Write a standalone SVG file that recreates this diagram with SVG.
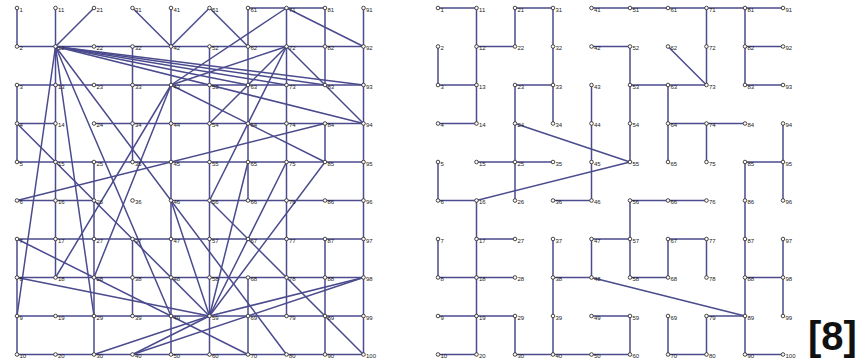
<svg xmlns="http://www.w3.org/2000/svg" width="867" height="361" viewBox="0 0 867 361">
<style>
.bg{fill:#fff}
.e path{stroke:#4b4b8e;stroke-width:1.5;fill:none;stroke-linecap:round}
.n circle{fill:#fff;stroke:#333;stroke-width:0.9}
.n text{font-family:"Liberation Sans",Arial,sans-serif;font-size:6px;fill:#222}
.ref{font-family:"Liberation Sans",Arial,sans-serif;font-size:40px;font-weight:bold;fill:#111}
</style>
<rect class="bg" x="0" y="0" width="867" height="361"/>
<g id="connectors" class="e">
<g id="left-edges">
<path d="M17 46.5H363.5M17 85H363.5M248 8H325M17 123.5H55.5M94 123.5H363.5M17 162H363.5M17 200.5H94M171 200.5H363.5M17 239H363.5M17 277.5H363.5M17 316H363.5M17 354.5H363.5"/>
<path d="M17 8V46.5M17 85V162M17 239V354.5M55.5 8V277.5M94 162V354.5M132.5 46.5V162M132.5 239V316M171 8V354.5M209.5 46.5V354.5M248 8V200.5M248 277.5V354.5M286.5 8V316M325 8V85M325 123.5V162M325 239V354.5M363.5 8V354.5"/>
<path d="M55.5 46.5L94 8"/>
<path d="M132.5 8L171 46.5"/>
<path d="M209.5 8L171 46.5"/>
<path d="M209.5 8L248 46.5"/>
<path d="M286.5 8L363.5 46.5"/>
<path d="M286.5 8L171 85"/>
<path d="M55.5 46.5L248 85"/>
<path d="M55.5 46.5L286.5 85"/>
<path d="M55.5 46.5L325 85"/>
<path d="M55.5 46.5L363.5 85"/>
<path d="M55.5 46.5L363.5 123.5"/>
<path d="M55.5 46.5L17 316"/>
<path d="M55.5 46.5L94 316"/>
<path d="M55.5 46.5L171 316"/>
<path d="M55.5 46.5L286.5 354.5"/>
<path d="M286.5 46.5L171 85"/>
<path d="M286.5 46.5L209.5 200.5"/>
<path d="M286.5 46.5L209.5 123.5"/>
<path d="M286.5 46.5L363.5 123.5"/>
<path d="M171 85L55.5 277.5"/>
<path d="M171 85L94 277.5"/>
<path d="M171 85L325 162"/>
<path d="M17 123.5L209.5 316"/>
<path d="M17 200.5L325 123.5"/>
<path d="M17 239L248 354.5"/>
<path d="M17 277.5L209.5 316"/>
<path d="M209.5 316L94 354.5"/>
<path d="M209.5 316L132.5 354.5"/>
<path d="M209.5 316L171 200.5"/>
<path d="M209.5 316L248 162"/>
<path d="M209.5 316L286.5 162"/>
<path d="M209.5 316L325 162"/>
<path d="M209.5 316L363.5 277.5"/>
<path d="M132.5 354.5L363.5 277.5"/>
<path d="M209.5 200.5L363.5 354.5"/>
</g>
<g id="right-edges">
<path d="M438 8H476.5M515 8H553M591.5 8H783M476.5 46.5H515M591.5 46.5H630M745 46.5H783M438 85H476.5M515 85H553M630 85H706.5M745 85H783M438 123.5H476.5M668 123.5H745M476.5 162H553M745 162H783M438 200.5H476.5M553 200.5H591.5M630 200.5H706.5M476.5 239H515M591.5 239H630M668 239H706.5M438 277.5H515M553 277.5H591.5M630 277.5H668M745 277.5H783M438 316H515M591.5 316H630M706.5 316H745M438 354.5H476.5M515 354.5H630M668 354.5H706.5M745 354.5H783"/>
<path d="M438 46.5V85M438 162V200.5M438 239V277.5M476.5 8V123.5M476.5 200.5V354.5M515 8V46.5M515 85V200.5M515 316V354.5M553 8V123.5M553 239V354.5M591.5 85V200.5M591.5 239V277.5M630 46.5V162M630 200.5V277.5M630 316V354.5M668 85V162M668 239V277.5M668 316V354.5M706.5 8V85M706.5 123.5V162M706.5 239V277.5M706.5 316V354.5M745 8V85M745 162V354.5M783 123.5V200.5M783 239V316"/>
<path d="M668 46.5L706.5 85"/>
<path d="M515 123.5L630 162"/>
<path d="M476.5 200.5L630 162"/>
<path d="M591.5 277.5L745 316"/>
</g>
</g>
<g id="left-nodes" class="n">
<g id="L1"><circle cx="17" cy="8" r="1.8"/><text x="19.5" y="11.5">1</text></g>
<g id="L2"><circle cx="17" cy="46.5" r="1.8"/><text x="19.5" y="50">2</text></g>
<g id="L3"><circle cx="17" cy="85" r="1.8"/><text x="19.5" y="88.5">3</text></g>
<g id="L4"><circle cx="17" cy="123.5" r="1.8"/><text x="19.5" y="127">4</text></g>
<g id="L5"><circle cx="17" cy="162" r="1.8"/><text x="19.5" y="165.5">5</text></g>
<g id="L6"><circle cx="17" cy="200.5" r="1.8"/><text x="19.5" y="204">6</text></g>
<g id="L7"><circle cx="17" cy="239" r="1.8"/><text x="19.5" y="242.5">7</text></g>
<g id="L8"><circle cx="17" cy="277.5" r="1.8"/><text x="19.5" y="281">8</text></g>
<g id="L9"><circle cx="17" cy="316" r="1.8"/><text x="19.5" y="319.5">9</text></g>
<g id="L10"><circle cx="17" cy="354.5" r="1.8"/><text x="19.5" y="358">10</text></g>
<g id="L11"><circle cx="55.5" cy="8" r="1.8"/><text x="58" y="11.5">11</text></g>
<g id="L12"><circle cx="55.5" cy="46.5" r="1.8"/><text x="58" y="50">12</text></g>
<g id="L13"><circle cx="55.5" cy="85" r="1.8"/><text x="58" y="88.5">13</text></g>
<g id="L14"><circle cx="55.5" cy="123.5" r="1.8"/><text x="58" y="127">14</text></g>
<g id="L15"><circle cx="55.5" cy="162" r="1.8"/><text x="58" y="165.5">15</text></g>
<g id="L16"><circle cx="55.5" cy="200.5" r="1.8"/><text x="58" y="204">16</text></g>
<g id="L17"><circle cx="55.5" cy="239" r="1.8"/><text x="58" y="242.5">17</text></g>
<g id="L18"><circle cx="55.5" cy="277.5" r="1.8"/><text x="58" y="281">18</text></g>
<g id="L19"><circle cx="55.5" cy="316" r="1.8"/><text x="58" y="319.5">19</text></g>
<g id="L20"><circle cx="55.5" cy="354.5" r="1.8"/><text x="58" y="358">20</text></g>
<g id="L21"><circle cx="94" cy="8" r="1.8"/><text x="96.5" y="11.5">21</text></g>
<g id="L22"><circle cx="94" cy="46.5" r="1.8"/><text x="96.5" y="50">22</text></g>
<g id="L23"><circle cx="94" cy="85" r="1.8"/><text x="96.5" y="88.5">23</text></g>
<g id="L24"><circle cx="94" cy="123.5" r="1.8"/><text x="96.5" y="127">24</text></g>
<g id="L25"><circle cx="94" cy="162" r="1.8"/><text x="96.5" y="165.5">25</text></g>
<g id="L26"><circle cx="94" cy="200.5" r="1.8"/><text x="96.5" y="204">26</text></g>
<g id="L27"><circle cx="94" cy="239" r="1.8"/><text x="96.5" y="242.5">27</text></g>
<g id="L28"><circle cx="94" cy="277.5" r="1.8"/><text x="96.5" y="281">28</text></g>
<g id="L29"><circle cx="94" cy="316" r="1.8"/><text x="96.5" y="319.5">29</text></g>
<g id="L30"><circle cx="94" cy="354.5" r="1.8"/><text x="96.5" y="358">30</text></g>
<g id="L31"><circle cx="132.5" cy="8" r="1.8"/><text x="135" y="11.5">31</text></g>
<g id="L32"><circle cx="132.5" cy="46.5" r="1.8"/><text x="135" y="50">32</text></g>
<g id="L33"><circle cx="132.5" cy="85" r="1.8"/><text x="135" y="88.5">33</text></g>
<g id="L34"><circle cx="132.5" cy="123.5" r="1.8"/><text x="135" y="127">34</text></g>
<g id="L35"><circle cx="132.5" cy="162" r="1.8"/><text x="135" y="165.5">35</text></g>
<g id="L36"><circle cx="132.5" cy="200.5" r="1.8"/><text x="135" y="204">36</text></g>
<g id="L37"><circle cx="132.5" cy="239" r="1.8"/><text x="135" y="242.5">37</text></g>
<g id="L38"><circle cx="132.5" cy="277.5" r="1.8"/><text x="135" y="281">38</text></g>
<g id="L39"><circle cx="132.5" cy="316" r="1.8"/><text x="135" y="319.5">39</text></g>
<g id="L40"><circle cx="132.5" cy="354.5" r="1.8"/><text x="135" y="358">40</text></g>
<g id="L41"><circle cx="171" cy="8" r="1.8"/><text x="173.5" y="11.5">41</text></g>
<g id="L42"><circle cx="171" cy="46.5" r="1.8"/><text x="173.5" y="50">42</text></g>
<g id="L43"><circle cx="171" cy="85" r="1.8"/><text x="173.5" y="88.5">43</text></g>
<g id="L44"><circle cx="171" cy="123.5" r="1.8"/><text x="173.5" y="127">44</text></g>
<g id="L45"><circle cx="171" cy="162" r="1.8"/><text x="173.5" y="165.5">45</text></g>
<g id="L46"><circle cx="171" cy="200.5" r="1.8"/><text x="173.5" y="204">46</text></g>
<g id="L47"><circle cx="171" cy="239" r="1.8"/><text x="173.5" y="242.5">47</text></g>
<g id="L48"><circle cx="171" cy="277.5" r="1.8"/><text x="173.5" y="281">48</text></g>
<g id="L49"><circle cx="171" cy="316" r="1.8"/><text x="173.5" y="319.5">49</text></g>
<g id="L50"><circle cx="171" cy="354.5" r="1.8"/><text x="173.5" y="358">50</text></g>
<g id="L51"><circle cx="209.5" cy="8" r="1.8"/><text x="212" y="11.5">51</text></g>
<g id="L52"><circle cx="209.5" cy="46.5" r="1.8"/><text x="212" y="50">52</text></g>
<g id="L53"><circle cx="209.5" cy="85" r="1.8"/><text x="212" y="88.5">53</text></g>
<g id="L54"><circle cx="209.5" cy="123.5" r="1.8"/><text x="212" y="127">54</text></g>
<g id="L55"><circle cx="209.5" cy="162" r="1.8"/><text x="212" y="165.5">55</text></g>
<g id="L56"><circle cx="209.5" cy="200.5" r="1.8"/><text x="212" y="204">56</text></g>
<g id="L57"><circle cx="209.5" cy="239" r="1.8"/><text x="212" y="242.5">57</text></g>
<g id="L58"><circle cx="209.5" cy="277.5" r="1.8"/><text x="212" y="281">58</text></g>
<g id="L59"><circle cx="209.5" cy="316" r="1.8"/><text x="212" y="319.5">59</text></g>
<g id="L60"><circle cx="209.5" cy="354.5" r="1.8"/><text x="212" y="358">60</text></g>
<g id="L61"><circle cx="248" cy="8" r="1.8"/><text x="250.5" y="11.5">61</text></g>
<g id="L62"><circle cx="248" cy="46.5" r="1.8"/><text x="250.5" y="50">62</text></g>
<g id="L63"><circle cx="248" cy="85" r="1.8"/><text x="250.5" y="88.5">63</text></g>
<g id="L64"><circle cx="248" cy="123.5" r="1.8"/><text x="250.5" y="127">64</text></g>
<g id="L65"><circle cx="248" cy="162" r="1.8"/><text x="250.5" y="165.5">65</text></g>
<g id="L66"><circle cx="248" cy="200.5" r="1.8"/><text x="250.5" y="204">66</text></g>
<g id="L67"><circle cx="248" cy="239" r="1.8"/><text x="250.5" y="242.5">67</text></g>
<g id="L68"><circle cx="248" cy="277.5" r="1.8"/><text x="250.5" y="281">68</text></g>
<g id="L69"><circle cx="248" cy="316" r="1.8"/><text x="250.5" y="319.5">69</text></g>
<g id="L70"><circle cx="248" cy="354.5" r="1.8"/><text x="250.5" y="358">70</text></g>
<g id="L71"><circle cx="286.5" cy="8" r="1.8"/><text x="289" y="11.5">71</text></g>
<g id="L72"><circle cx="286.5" cy="46.5" r="1.8"/><text x="289" y="50">72</text></g>
<g id="L73"><circle cx="286.5" cy="85" r="1.8"/><text x="289" y="88.5">73</text></g>
<g id="L74"><circle cx="286.5" cy="123.5" r="1.8"/><text x="289" y="127">74</text></g>
<g id="L75"><circle cx="286.5" cy="162" r="1.8"/><text x="289" y="165.5">75</text></g>
<g id="L76"><circle cx="286.5" cy="200.5" r="1.8"/><text x="289" y="204">76</text></g>
<g id="L77"><circle cx="286.5" cy="239" r="1.8"/><text x="289" y="242.5">77</text></g>
<g id="L78"><circle cx="286.5" cy="277.5" r="1.8"/><text x="289" y="281">78</text></g>
<g id="L79"><circle cx="286.5" cy="316" r="1.8"/><text x="289" y="319.5">79</text></g>
<g id="L80"><circle cx="286.5" cy="354.5" r="1.8"/><text x="289" y="358">80</text></g>
<g id="L81"><circle cx="325" cy="8" r="1.8"/><text x="327.5" y="11.5">81</text></g>
<g id="L82"><circle cx="325" cy="46.5" r="1.8"/><text x="327.5" y="50">82</text></g>
<g id="L83"><circle cx="325" cy="85" r="1.8"/><text x="327.5" y="88.5">83</text></g>
<g id="L84"><circle cx="325" cy="123.5" r="1.8"/><text x="327.5" y="127">84</text></g>
<g id="L85"><circle cx="325" cy="162" r="1.8"/><text x="327.5" y="165.5">85</text></g>
<g id="L86"><circle cx="325" cy="200.5" r="1.8"/><text x="327.5" y="204">86</text></g>
<g id="L87"><circle cx="325" cy="239" r="1.8"/><text x="327.5" y="242.5">87</text></g>
<g id="L88"><circle cx="325" cy="277.5" r="1.8"/><text x="327.5" y="281">88</text></g>
<g id="L89"><circle cx="325" cy="316" r="1.8"/><text x="327.5" y="319.5">89</text></g>
<g id="L90"><circle cx="325" cy="354.5" r="1.8"/><text x="327.5" y="358">90</text></g>
<g id="L91"><circle cx="363.5" cy="8" r="1.8"/><text x="366" y="11.5">91</text></g>
<g id="L92"><circle cx="363.5" cy="46.5" r="1.8"/><text x="366" y="50">92</text></g>
<g id="L93"><circle cx="363.5" cy="85" r="1.8"/><text x="366" y="88.5">93</text></g>
<g id="L94"><circle cx="363.5" cy="123.5" r="1.8"/><text x="366" y="127">94</text></g>
<g id="L95"><circle cx="363.5" cy="162" r="1.8"/><text x="366" y="165.5">95</text></g>
<g id="L96"><circle cx="363.5" cy="200.5" r="1.8"/><text x="366" y="204">96</text></g>
<g id="L97"><circle cx="363.5" cy="239" r="1.8"/><text x="366" y="242.5">97</text></g>
<g id="L98"><circle cx="363.5" cy="277.5" r="1.8"/><text x="366" y="281">98</text></g>
<g id="L99"><circle cx="363.5" cy="316" r="1.8"/><text x="366" y="319.5">99</text></g>
<g id="L100"><circle cx="363.5" cy="354.5" r="1.8"/><text x="366" y="358">100</text></g>
</g>
<g id="right-nodes" class="n">
<g id="R1"><circle cx="438" cy="8" r="1.8"/><text x="440.5" y="11.5">1</text></g>
<g id="R2"><circle cx="438" cy="46.5" r="1.8"/><text x="440.5" y="50">2</text></g>
<g id="R3"><circle cx="438" cy="85" r="1.8"/><text x="440.5" y="88.5">3</text></g>
<g id="R4"><circle cx="438" cy="123.5" r="1.8"/><text x="440.5" y="127">4</text></g>
<g id="R5"><circle cx="438" cy="162" r="1.8"/><text x="440.5" y="165.5">5</text></g>
<g id="R6"><circle cx="438" cy="200.5" r="1.8"/><text x="440.5" y="204">6</text></g>
<g id="R7"><circle cx="438" cy="239" r="1.8"/><text x="440.5" y="242.5">7</text></g>
<g id="R8"><circle cx="438" cy="277.5" r="1.8"/><text x="440.5" y="281">8</text></g>
<g id="R9"><circle cx="438" cy="316" r="1.8"/><text x="440.5" y="319.5">9</text></g>
<g id="R10"><circle cx="438" cy="354.5" r="1.8"/><text x="440.5" y="358">10</text></g>
<g id="R11"><circle cx="476.5" cy="8" r="1.8"/><text x="479" y="11.5">11</text></g>
<g id="R12"><circle cx="476.5" cy="46.5" r="1.8"/><text x="479" y="50">12</text></g>
<g id="R13"><circle cx="476.5" cy="85" r="1.8"/><text x="479" y="88.5">13</text></g>
<g id="R14"><circle cx="476.5" cy="123.5" r="1.8"/><text x="479" y="127">14</text></g>
<g id="R15"><circle cx="476.5" cy="162" r="1.8"/><text x="479" y="165.5">15</text></g>
<g id="R16"><circle cx="476.5" cy="200.5" r="1.8"/><text x="479" y="204">16</text></g>
<g id="R17"><circle cx="476.5" cy="239" r="1.8"/><text x="479" y="242.5">17</text></g>
<g id="R18"><circle cx="476.5" cy="277.5" r="1.8"/><text x="479" y="281">18</text></g>
<g id="R19"><circle cx="476.5" cy="316" r="1.8"/><text x="479" y="319.5">19</text></g>
<g id="R20"><circle cx="476.5" cy="354.5" r="1.8"/><text x="479" y="358">20</text></g>
<g id="R21"><circle cx="515" cy="8" r="1.8"/><text x="517.5" y="11.5">21</text></g>
<g id="R22"><circle cx="515" cy="46.5" r="1.8"/><text x="517.5" y="50">22</text></g>
<g id="R23"><circle cx="515" cy="85" r="1.8"/><text x="517.5" y="88.5">23</text></g>
<g id="R24"><circle cx="515" cy="123.5" r="1.8"/><text x="517.5" y="127">24</text></g>
<g id="R25"><circle cx="515" cy="162" r="1.8"/><text x="517.5" y="165.5">25</text></g>
<g id="R26"><circle cx="515" cy="200.5" r="1.8"/><text x="517.5" y="204">26</text></g>
<g id="R27"><circle cx="515" cy="239" r="1.8"/><text x="517.5" y="242.5">27</text></g>
<g id="R28"><circle cx="515" cy="277.5" r="1.8"/><text x="517.5" y="281">28</text></g>
<g id="R29"><circle cx="515" cy="316" r="1.8"/><text x="517.5" y="319.5">29</text></g>
<g id="R30"><circle cx="515" cy="354.5" r="1.8"/><text x="517.5" y="358">30</text></g>
<g id="R31"><circle cx="553" cy="8" r="1.8"/><text x="555.5" y="11.5">31</text></g>
<g id="R32"><circle cx="553" cy="46.5" r="1.8"/><text x="555.5" y="50">32</text></g>
<g id="R33"><circle cx="553" cy="85" r="1.8"/><text x="555.5" y="88.5">33</text></g>
<g id="R34"><circle cx="553" cy="123.5" r="1.8"/><text x="555.5" y="127">34</text></g>
<g id="R35"><circle cx="553" cy="162" r="1.8"/><text x="555.5" y="165.5">35</text></g>
<g id="R36"><circle cx="553" cy="200.5" r="1.8"/><text x="555.5" y="204">36</text></g>
<g id="R37"><circle cx="553" cy="239" r="1.8"/><text x="555.5" y="242.5">37</text></g>
<g id="R38"><circle cx="553" cy="277.5" r="1.8"/><text x="555.5" y="281">38</text></g>
<g id="R39"><circle cx="553" cy="316" r="1.8"/><text x="555.5" y="319.5">39</text></g>
<g id="R40"><circle cx="553" cy="354.5" r="1.8"/><text x="555.5" y="358">40</text></g>
<g id="R41"><circle cx="591.5" cy="8" r="1.8"/><text x="594" y="11.5">41</text></g>
<g id="R42"><circle cx="591.5" cy="46.5" r="1.8"/><text x="594" y="50">42</text></g>
<g id="R43"><circle cx="591.5" cy="85" r="1.8"/><text x="594" y="88.5">43</text></g>
<g id="R44"><circle cx="591.5" cy="123.5" r="1.8"/><text x="594" y="127">44</text></g>
<g id="R45"><circle cx="591.5" cy="162" r="1.8"/><text x="594" y="165.5">45</text></g>
<g id="R46"><circle cx="591.5" cy="200.5" r="1.8"/><text x="594" y="204">46</text></g>
<g id="R47"><circle cx="591.5" cy="239" r="1.8"/><text x="594" y="242.5">47</text></g>
<g id="R48"><circle cx="591.5" cy="277.5" r="1.8"/><text x="594" y="281">48</text></g>
<g id="R49"><circle cx="591.5" cy="316" r="1.8"/><text x="594" y="319.5">49</text></g>
<g id="R50"><circle cx="591.5" cy="354.5" r="1.8"/><text x="594" y="358">50</text></g>
<g id="R51"><circle cx="630" cy="8" r="1.8"/><text x="632.5" y="11.5">51</text></g>
<g id="R52"><circle cx="630" cy="46.5" r="1.8"/><text x="632.5" y="50">52</text></g>
<g id="R53"><circle cx="630" cy="85" r="1.8"/><text x="632.5" y="88.5">53</text></g>
<g id="R54"><circle cx="630" cy="123.5" r="1.8"/><text x="632.5" y="127">54</text></g>
<g id="R55"><circle cx="630" cy="162" r="1.8"/><text x="632.5" y="165.5">55</text></g>
<g id="R56"><circle cx="630" cy="200.5" r="1.8"/><text x="632.5" y="204">56</text></g>
<g id="R57"><circle cx="630" cy="239" r="1.8"/><text x="632.5" y="242.5">57</text></g>
<g id="R58"><circle cx="630" cy="277.5" r="1.8"/><text x="632.5" y="281">58</text></g>
<g id="R59"><circle cx="630" cy="316" r="1.8"/><text x="632.5" y="319.5">59</text></g>
<g id="R60"><circle cx="630" cy="354.5" r="1.8"/><text x="632.5" y="358">60</text></g>
<g id="R61"><circle cx="668" cy="8" r="1.8"/><text x="670.5" y="11.5">61</text></g>
<g id="R62"><circle cx="668" cy="46.5" r="1.8"/><text x="670.5" y="50">62</text></g>
<g id="R63"><circle cx="668" cy="85" r="1.8"/><text x="670.5" y="88.5">63</text></g>
<g id="R64"><circle cx="668" cy="123.5" r="1.8"/><text x="670.5" y="127">64</text></g>
<g id="R65"><circle cx="668" cy="162" r="1.8"/><text x="670.5" y="165.5">65</text></g>
<g id="R66"><circle cx="668" cy="200.5" r="1.8"/><text x="670.5" y="204">66</text></g>
<g id="R67"><circle cx="668" cy="239" r="1.8"/><text x="670.5" y="242.5">67</text></g>
<g id="R68"><circle cx="668" cy="277.5" r="1.8"/><text x="670.5" y="281">68</text></g>
<g id="R69"><circle cx="668" cy="316" r="1.8"/><text x="670.5" y="319.5">69</text></g>
<g id="R70"><circle cx="668" cy="354.5" r="1.8"/><text x="670.5" y="358">70</text></g>
<g id="R71"><circle cx="706.5" cy="8" r="1.8"/><text x="709" y="11.5">71</text></g>
<g id="R72"><circle cx="706.5" cy="46.5" r="1.8"/><text x="709" y="50">72</text></g>
<g id="R73"><circle cx="706.5" cy="85" r="1.8"/><text x="709" y="88.5">73</text></g>
<g id="R74"><circle cx="706.5" cy="123.5" r="1.8"/><text x="709" y="127">74</text></g>
<g id="R75"><circle cx="706.5" cy="162" r="1.8"/><text x="709" y="165.5">75</text></g>
<g id="R76"><circle cx="706.5" cy="200.5" r="1.8"/><text x="709" y="204">76</text></g>
<g id="R77"><circle cx="706.5" cy="239" r="1.8"/><text x="709" y="242.5">77</text></g>
<g id="R78"><circle cx="706.5" cy="277.5" r="1.8"/><text x="709" y="281">78</text></g>
<g id="R79"><circle cx="706.5" cy="316" r="1.8"/><text x="709" y="319.5">79</text></g>
<g id="R80"><circle cx="706.5" cy="354.5" r="1.8"/><text x="709" y="358">80</text></g>
<g id="R81"><circle cx="745" cy="8" r="1.8"/><text x="747.5" y="11.5">81</text></g>
<g id="R82"><circle cx="745" cy="46.5" r="1.8"/><text x="747.5" y="50">82</text></g>
<g id="R83"><circle cx="745" cy="85" r="1.8"/><text x="747.5" y="88.5">83</text></g>
<g id="R84"><circle cx="745" cy="123.5" r="1.8"/><text x="747.5" y="127">84</text></g>
<g id="R85"><circle cx="745" cy="162" r="1.8"/><text x="747.5" y="165.5">85</text></g>
<g id="R86"><circle cx="745" cy="200.5" r="1.8"/><text x="747.5" y="204">86</text></g>
<g id="R87"><circle cx="745" cy="239" r="1.8"/><text x="747.5" y="242.5">87</text></g>
<g id="R88"><circle cx="745" cy="277.5" r="1.8"/><text x="747.5" y="281">88</text></g>
<g id="R89"><circle cx="745" cy="316" r="1.8"/><text x="747.5" y="319.5">89</text></g>
<g id="R90"><circle cx="745" cy="354.5" r="1.8"/><text x="747.5" y="358">90</text></g>
<g id="R91"><circle cx="783" cy="8" r="1.8"/><text x="785.5" y="11.5">91</text></g>
<g id="R92"><circle cx="783" cy="46.5" r="1.8"/><text x="785.5" y="50">92</text></g>
<g id="R93"><circle cx="783" cy="85" r="1.8"/><text x="785.5" y="88.5">93</text></g>
<g id="R94"><circle cx="783" cy="123.5" r="1.8"/><text x="785.5" y="127">94</text></g>
<g id="R95"><circle cx="783" cy="162" r="1.8"/><text x="785.5" y="165.5">95</text></g>
<g id="R96"><circle cx="783" cy="200.5" r="1.8"/><text x="785.5" y="204">96</text></g>
<g id="R97"><circle cx="783" cy="239" r="1.8"/><text x="785.5" y="242.5">97</text></g>
<g id="R98"><circle cx="783" cy="277.5" r="1.8"/><text x="785.5" y="281">98</text></g>
<g id="R99"><circle cx="783" cy="316" r="1.8"/><text x="785.5" y="319.5">99</text></g>
<g id="R100"><circle cx="783" cy="354.5" r="1.8"/><text x="785.5" y="358">100</text></g>
</g>
<text id="ref-label" class="ref" x="808" y="350">[8]</text>
</svg>
